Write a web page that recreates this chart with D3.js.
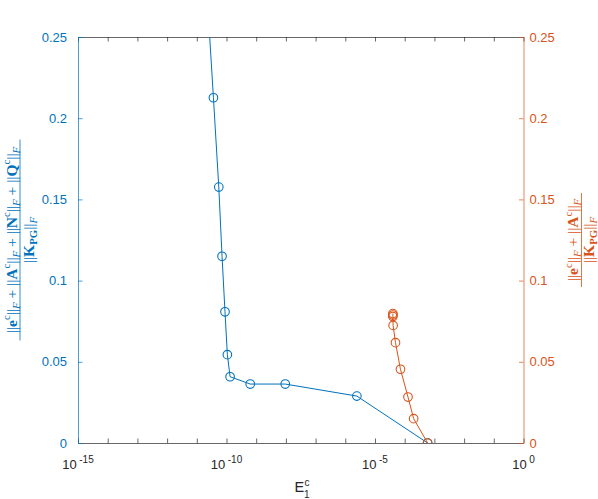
<!DOCTYPE html>
<html>
<head>
<meta charset="utf-8">
<script src="https://cdn.jsdelivr.net/npm/d3@7"></script>
<style>
  body { margin: 0; background: #fff; }
  text { white-space: pre; }
</style>
</head>
<body>
<div id="chart"></div>
<script>
var width = 598;
var height = 499;
var margin = {top: 37, right: 74.5, bottom: 56, left: 78};

// blue series: E1c on x (log), left axis ratio on y
// first point sits above the visible range, the line gets clipped
var blueX = [2.0e-11, 3.63e-11, 5.5e-11, 7.08e-11, 8.9e-11, 1.07e-10, 1.32e-10, 6.3e-10, 9.5e-9, 2.45e-6, 5.9e-4];
var blueY = [0.29, 0.2126, 0.1576, 0.115, 0.0808, 0.0544, 0.0408, 0.0363, 0.0363, 0.0289, 0];

// orange series: right axis ratio
var orangeX = [4.0e-5, 4.0e-5, 4.0e-5, 4.07e-5, 4.9e-5, 7.2e-5, 1.29e-4, 2.0e-4, 5.9e-4];
var orangeY = [0.0797, 0.0788, 0.0779, 0.0724, 0.0618, 0.0454, 0.0283, 0.0150, 0];

var yTicks = [0, 0.05, 0.1, 0.15, 0.2, 0.25];
var xTickExps = d3.range(-15, 1);
var xLabelExps = [-15, -10, -5, 0];

var blue = "#0072BD";
var orange = "#D95319";
var dark = "#262626";

var svg = d3.select("#chart")
    .append("svg")
    .attr("width", width)
    .attr("height", height);

var x0 = margin.left, x1 = width - margin.right;
var y0 = height - margin.bottom, y1 = margin.top;

var xScale = d3.scaleLog().domain([1e-15, 1]).range([x0, x1]);
var yScale = d3.scaleLinear().domain([0, 0.25]).range([y0, y1]);

/*** axes ***/
var xTickVals = xTickExps.map(function(e) { return Math.pow(10, e); });

function styleAxis(g, color) {
  g.select(".domain").attr("stroke", color).attr("stroke-width", 0.7);
  g.selectAll(".tick line").attr("stroke", color).attr("stroke-width", 0.7);
  g.selectAll(".tick text").attr("fill", color)
    .attr("font-family", "Liberation Sans, Arial, sans-serif")
    .attr("font-size", 13);
}

var xAxisBottom = d3.axisBottom(xScale).tickValues(xTickVals)
    .tickSizeInner(-4.5).tickSizeOuter(0).tickFormat("");
var gxb = svg.append("g").attr("transform", "translate(0," + y0 + ")").call(xAxisBottom);
styleAxis(gxb, dark);

var xAxisTop = d3.axisTop(xScale).tickValues(xTickVals)
    .tickSizeInner(-4.5).tickSizeOuter(0).tickFormat("");
var gxt = svg.append("g").attr("transform", "translate(0," + y1 + ")").call(xAxisTop);
styleAxis(gxt, dark);

var yAxisLeft = d3.axisLeft(yScale).tickValues(yTicks)
    .tickSizeInner(-4.5).tickSizeOuter(0).tickPadding(11)
    .tickFormat(function(d) { return String(d); });
var gyl = svg.append("g").attr("transform", "translate(" + x0 + ",0)").call(yAxisLeft);
styleAxis(gyl, blue);

var yAxisRight = d3.axisRight(yScale).tickValues(yTicks)
    .tickSizeInner(-4.5).tickSizeOuter(0).tickPadding(6)
    .tickFormat(function(d) { return String(d); });
var gyr = svg.append("g").attr("transform", "translate(" + x1 + ",0)").call(yAxisRight);
styleAxis(gyr, orange);

// x tick labels 10^n
var xl = svg.append("g");
xLabelExps.forEach(function(e) {
  var t = xl.append("text")
    .attr("x", xScale(Math.pow(10, e)))
    .attr("y", 469)
    .attr("text-anchor", "middle")
    .attr("fill", dark)
    .attr("font-family", "Liberation Sans, Arial, sans-serif")
    .attr("font-size", 13);
  t.append("tspan").text("10");
  t.append("tspan").attr("dx", 2.5).attr("dy", -6).attr("font-size", 10).text(String(e));
});

// x label E_1^c
var xlab = svg.append("g").attr("fill", dark)
  .attr("font-family", "Liberation Sans, Arial, sans-serif");
xlab.append("text").attr("x", 294.5).attr("y", 492).attr("font-size", 14.5).text("E");
xlab.append("text").attr("x", 304.5).attr("y", 485.5).attr("font-size", 10).text("c");
xlab.append("text").attr("x", 304).attr("y", 497.5).attr("font-size", 10).text("1");

/*** lines ***/
svg.append("clipPath").attr("id", "plotClip")
  .append("rect").attr("x", x0).attr("y", y1).attr("width", x1 - x0).attr("height", y0 - y1);

var plot = svg.append("g").attr("clip-path", "url(#plotClip)");

function drawSeries(xs, ys, color) {
  var pts = xs.map(function(d, i) { return [d, ys[i]]; });
  var line = d3.line()
    .x(function(d) { return xScale(d[0]); })
    .y(function(d) { return yScale(d[1]); });
  plot.append("path").attr("d", line(pts))
    .attr("fill", "none").attr("stroke", color).attr("stroke-width", 1);
  plot.selectAll(null).data(pts).enter().append("circle")
    .attr("cx", function(d) { return xScale(d[0]); })
    .attr("cy", function(d) { return yScale(d[1]); })
    .attr("r", 4.3)
    .attr("fill", "none").attr("stroke", color).attr("stroke-width", 1.1);
}
drawSeries(blueX, blueY, blue);
drawSeries(orangeX, orangeY, orange);

/*** y labels (fractions, rotated) ***/
var DB = "||";
function mathText(sel, parts, size) {
  var cur = 0;
  parts.forEach(function(p) {
    var off = p.s === "sup" ? -0.42 * size : p.s === "sub" ? 0.22 * size : 0;
    var ts = sel.append("tspan").attr("dy", off - cur).text(p.t);
    cur = off;
    if (p.s) ts.attr("font-size", size * 0.7);
    if (p.b) ts.attr("font-weight", "bold");
    if (p.i) ts.attr("font-style", "italic");
  });
}
function normTerm(letter) {
  return [{t: DB}, {t: letter, b: true}, {t: "c", s: "sup"}, {t: DB}, {t: "F", s: "sub", i: true}];
}
var plus = [{t: " + "}];

function drawFrac(cx, num, den, color, barLen, size, numY, denY) {
  var g = svg.append("g")
    .attr("transform", "translate(" + cx + "," + ((y0 + y1) / 2) + ") rotate(-90)")
    .attr("fill", color)
    .attr("font-family", "Liberation Serif, Times New Roman, serif");
  var tn = g.append("text").attr("x", 0).attr("y", numY).attr("text-anchor", "middle")
    .attr("font-size", size);
  mathText(tn, num, size);
  var td = g.append("text").attr("x", 0).attr("y", denY).attr("text-anchor", "middle")
    .attr("font-size", size);
  mathText(td, den, size);
  g.append("line").attr("x1", -barLen / 2).attr("x2", barLen / 2)
    .attr("y1", 0).attr("y2", 0).attr("stroke", color).attr("stroke-width", 0.8);
  return tn.node().getComputedTextLength();
}

var denParts = [{t: DB}, {t: "K", b: true}, {t: "PG", s: "sub", b: true}, {t: DB}, {t: "F", s: "sub", i: true}];

var leftNum = [].concat(normTerm("e"), plus, normTerm("A"), plus, normTerm("N"), plus, normTerm("Q"));
drawFrac(20, leftNum, denParts, blue, 201, 15.5, -3.5, 14);

var rightNum = [].concat(normTerm("e"), plus, normTerm("A"));
drawFrac(581.5, rightNum, denParts, orange, 94, 15.5, -3.5, 12.5);
</script>
</body>
</html>
